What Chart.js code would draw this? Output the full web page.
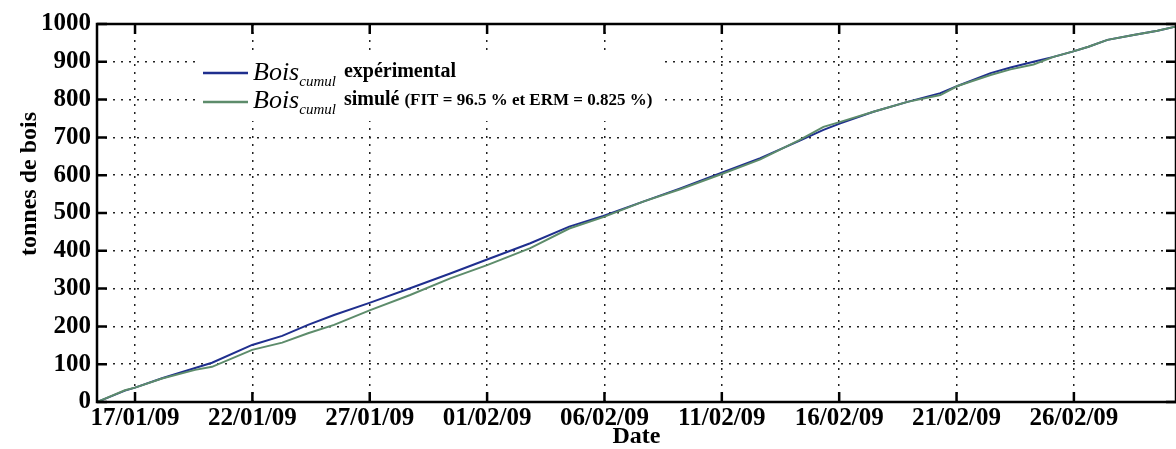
<!DOCTYPE html>
<html lang="fr">
<head>
<meta charset="utf-8">
<title>Bois cumulé</title>
<script src="https://cdn.jsdelivr.net/npm/chart.js@4.4.1/dist/chart.umd.min.js"></script>
<style>
  html, body { margin: 0; padding: 0; background: #fff; }
  #wrap { position: relative; width: 1176px; height: 449px; }
</style>
</head>
<body>
<div id="wrap"><canvas id="boisChart"></canvas></div>
<script>
// jours comptés depuis le 17/01/09
const jours = [-1.62, -0.43, 0, 1.15, 2.56, 3.28, 4.99, 6.27, 7.37, 8.48, 10.02, 11.72, 13.43, 15.0,
    16.84, 18.5, 19.95, 21.65, 23.23, 24.94, 26.64, 28.3, 29.33, 30.05, 31.46, 32.91, 34.31, 35.04,
    36.45, 37.3, 38.28, 39.13, 39.94, 40.62, 41.43, 42.54, 43.56, 44.33];
const boisExp = [0, 30, 38, 63, 90, 104, 151, 175, 204, 230, 263, 301, 340, 377,
    420, 464, 492, 530, 565, 605, 645, 691, 720, 737, 768, 794, 817, 836,
    870, 885, 900, 913, 927, 940, 958, 971, 982, 993];
const boisSim = [0, 31, 38, 62, 85, 93, 138, 157, 182, 204, 243, 283, 327, 362,
    407, 459, 489, 530, 563, 602, 642, 693, 728, 741, 768, 794, 812, 836,
    865, 880, 893, 913, 927, 940, 958, 971, 982, 993];

const tickJours = [0, 5, 10, 15, 20, 25, 30, 35, 40];
const tickDates = ['17/01/09', '22/01/09', '27/01/09', '01/02/09', '06/02/09',
    '11/02/09', '16/02/09', '21/02/09', '26/02/09'];
const yTicks = [0, 100, 200, 300, 400, 500, 600, 700, 800, 900, 1000];

const serif = "'Liberation Serif', 'Times New Roman', serif";
const bleu = '#1f2f8e';
const vert = '#5d8c6b';

// cadre noir + graduations vers l'intérieur
const cadre = {
    id: 'cadre',
    afterDatasetsDraw(chart) {
        const { ctx, chartArea: a, scales: { x, y } } = chart;
        ctx.save();
        ctx.strokeStyle = '#000';
        ctx.lineWidth = 2.5;
        ctx.strokeRect(a.left, a.top, a.right - a.left, a.bottom - a.top);
        ctx.beginPath();
        tickJours.forEach(d => {
            const px = x.getPixelForValue(d);
            ctx.moveTo(px, a.bottom); ctx.lineTo(px, a.bottom - 10);
            ctx.moveTo(px, a.top); ctx.lineTo(px, a.top + 10);
        });
        yTicks.forEach(v => {
            const py = y.getPixelForValue(v);
            ctx.moveTo(a.left, py); ctx.lineTo(a.left + 10, py);
            ctx.moveTo(a.right, py); ctx.lineTo(a.right - 10, py);
        });
        ctx.stroke();
        ctx.restore();
    }
};

// légende avec indice "cumul"
const legendeBois = {
    id: 'legendeBois',
    afterDraw(chart) {
        const ctx = chart.ctx;
        const rows = [
            { color: bleu, y: 73, base: 80, texte: 'expérimental', extra: '' },
            { color: vert, y: 102, base: 108, texte: 'simulé', extra: '(FIT = 96.5 % et ERM = 0.825 %)' }
        ];
        ctx.save();
        ctx.fillStyle = '#fff';
        ctx.fillRect(197, 54, 468, 67);
        rows.forEach(r => {
            ctx.strokeStyle = r.color;
            ctx.lineWidth = 2.5;
            ctx.beginPath();
            ctx.moveTo(203, r.y);
            ctx.lineTo(248, r.y);
            ctx.stroke();

            ctx.fillStyle = '#000';
            ctx.textBaseline = 'alphabetic';
            ctx.textAlign = 'left';
            let x = 253;
            ctx.font = 'italic 26px ' + serif;
            ctx.fillText('Bois', x, r.base);
            x += ctx.measureText('Bois').width;
            ctx.font = 'italic 15px ' + serif;
            ctx.fillText('cumul', x, r.base + 6);
            x += ctx.measureText('cumul').width + 8;
            ctx.font = 'bold 20px ' + serif;
            ctx.fillText(r.texte, x, r.base - 3);
            if (r.extra) {
                x += ctx.measureText(r.texte + ' ').width;
                ctx.font = 'bold 17px ' + serif;
                ctx.fillText(r.extra, x, r.base - 3);
            }
        });
        ctx.restore();
    }
};

// titre de l'axe vertical
const titreY = {
    id: 'titreY',
    afterDraw(chart) {
        const ctx = chart.ctx;
        ctx.save();
        ctx.translate(30, 184);
        ctx.rotate(-Math.PI / 2);
        ctx.font = 'bold 24px ' + serif;
        ctx.fillStyle = '#000';
        ctx.textAlign = 'center';
        ctx.textBaseline = 'middle';
        ctx.fillText('tonnes de bois', 0, 0);
        ctx.restore();
    }
};

const ctx = document.getElementById('boisChart').getContext('2d');
new Chart(ctx, {
    type: 'line',
    data: {
        datasets: [
            {
                label: 'Bois cumul simulé (FIT = 96.5 % et ERM = 0.825 %)',
                data: jours.map((d, i) => ({ x: d, y: boisSim[i] })),
                borderColor: vert,
                borderWidth: 2,
                pointRadius: 0,
                tension: 0
            },
            {
                label: 'Bois cumul expérimental',
                data: jours.map((d, i) => ({ x: d, y: boisExp[i] })),
                borderColor: bleu,
                borderWidth: 2,
                pointRadius: 0,
                tension: 0
            }
        ]
    },
    options: {
        responsive: true,
        maintainAspectRatio: false,
        animation: false,
        layout: { padding: { top: 24, right: 0, left: 0, bottom: 0 } },
        plugins: {
            legend: { display: false },
            tooltip: { enabled: false }
        },
        scales: {
            x: {
                type: 'linear',
                min: -1.62,
                max: 44.35,
                afterBuildTicks: scale => {
                    scale.ticks = tickJours.map(v => ({ value: v }));
                },
                afterFit: scale => { scale.height = 47; },
                ticks: {
                    autoSkip: false,
                    maxRotation: 0,
                    padding: 2,
                    color: '#000',
                    font: { family: serif, size: 25, weight: 'bold' },
                    callback: (value, index) => tickDates[index]
                },
                grid: { color: '#222', lineWidth: 1.5, drawTicks: false },
                border: { display: false, dash: [2, 6] },
                title: {
                    display: true,
                    text: 'Date',
                    color: '#000',
                    padding: 0,
                    font: { family: serif, size: 24, weight: 'bold', lineHeight: 1 }
                }
            },
            y: {
                min: 0,
                max: 1000,
                afterFit: scale => { scale.width = 97; },
                ticks: {
                    stepSize: 100,
                    padding: 6,
                    color: '#000',
                    font: { family: serif, size: 25, weight: 'bold' },
                    callback: value => String(value)
                },
                grid: { color: '#222', lineWidth: 1.5, drawTicks: false },
                border: { display: false, dash: [2, 6] }
            }
        }
    },
    plugins: [cadre, legendeBois, titreY]
});
</script>
</body>
</html>
